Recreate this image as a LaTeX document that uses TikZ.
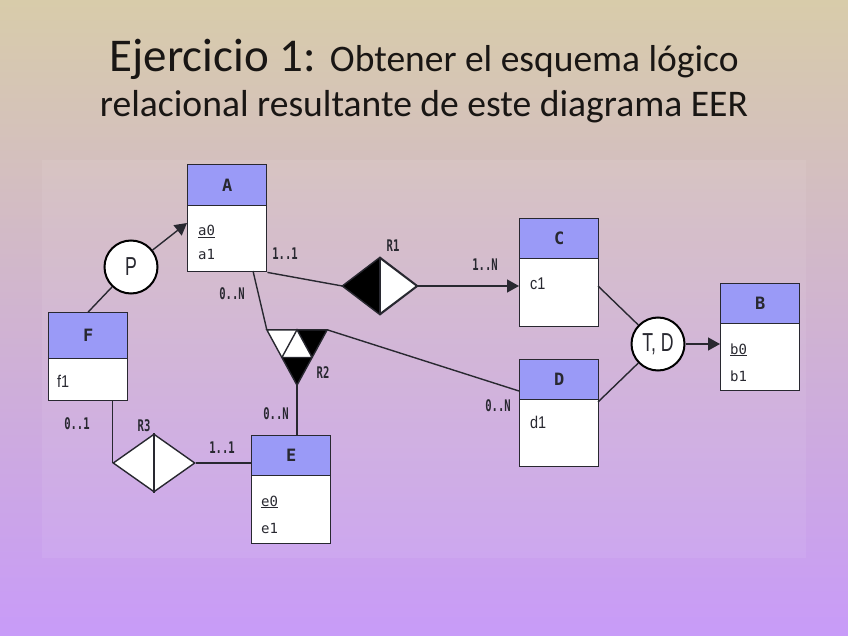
\documentclass[tikz,border=0pt]{standalone}
\usepackage{fontspec}
\setmainfont{Carlito}
\newfontfamily\monof[FakeStretch=0.66]{DejaVu Sans Mono}
\newfontfamily\attrf{DejaVu Sans Mono}
\newfontfamily\narrowf[FakeStretch=0.85]{Liberation Sans}
\newfontfamily\circf[FakeStretch=0.68]{Liberation Sans}
\usetikzlibrary{arrows.meta,shapes.geometric,calc}
\definecolor{hdrblue}{RGB}{154,154,247}
\definecolor{ink}{RGB}{40,40,48}
\definecolor{bgtop}{RGB}{216,204,170}
\definecolor{bgmid}{RGB}{228,210,222}
\definecolor{bgbot}{RGB}{200,155,248}
\definecolor{titleink}{RGB}{25,22,20}
\begin{document}
\begin{tikzpicture}[x=1pt,y=-1pt,
  hdr/.style={draw=ink, line width=1.4pt, fill=hdrblue, minimum width=79pt, inner sep=0pt, anchor=north west, font=\attrf\bfseries\fontsize{17}{17}\selectfont, text=ink},
  bdy/.style={draw=ink, line width=1.4pt, fill=white, minimum width=79pt, inner sep=0pt, anchor=north west},
  attr/.style={anchor=base west, inner sep=0pt, font=\attrf\fontsize{14}{14}\selectfont, text=ink},
  attrs/.style={anchor=base west, inner sep=0pt, font=\narrowf\fontsize{17}{17}\selectfont, text=ink},
  card/.style={inner sep=0pt, font=\monof\bfseries\fontsize{16}{16}\selectfont, text=ink},
  conn/.style={draw=ink, line width=1.4pt},
  arr/.style={conn, -{Triangle[length=12pt,width=13pt]}},
  circ/.style={circle, draw=black, line width=2pt, fill=white, minimum size=53pt, inner sep=0pt, font=\circf\fontsize{26}{26}\selectfont, text=ink},
  rel/.style={diamond, draw=ink, line width=1.4pt, fill=white, inner sep=0pt}
]
\useasboundingbox (0,0) rectangle (848,636);
\shade[top color=bgtop, middle color=bgmid, bottom color=bgbot] (0,0) rectangle (848,636);
\fill[white, opacity=0.07] (42,160) rectangle (806,558);

% title
\node[anchor=base, inner sep=0pt, text=titleink] (title1) at (424,72) {\fontsize{47}{47}\selectfont Ejercicio 1: \fontsize{37.5}{37.5}\selectfont Obtener el esquema lógico};
\node[anchor=base, inner sep=0pt, text=titleink, font=\fontsize{37.6}{37.6}\selectfont] (title2) at (424,117) {relacional resultante de este diagrama EER};

% entities
\node[hdr, minimum height=41pt] (A) at (187,164) {A};
\node[bdy, minimum height=66pt] (Ab) at (187,205) {};
\node[hdr, minimum height=40pt] (C) at (519,218) {C};
\node[bdy, minimum height=68pt] (Cb) at (519,258) {};
\node[hdr, minimum height=40pt] (B) at (720,283) {B};
\node[bdy, minimum height=67pt] (Bb) at (720,323) {};
\node[hdr, minimum height=46pt] (F) at (48,312) {F};
\node[bdy, minimum height=42pt] (Fb) at (48,358) {};
\node[hdr, minimum height=40pt] (D) at (519,359) {D};
\node[bdy, minimum height=67pt] (Db) at (519,399) {};
\node[hdr, minimum height=40pt] (E) at (251,435) {E};
\node[bdy, minimum height=68pt] (Eb) at (251,475) {};

% attributes
\node[attr] (a0) at (198,236) {\underline{a0}};
\node[attr] (a1) at (198,259) {a1};
\node[attrs] (c1) at (530,289) {c1};
\node[attr] (b0) at (730,354) {\underline{b0}};
\node[attr] (b1) at (730,381) {b1};
\node[attrs] (d1) at (530,428) {d1};
\node[attrs] (f1) at (57,387) {f1};
\node[attr] (e0) at (261,506) {\underline{e0}};
\node[attr] (e1) at (261,533) {e1};

% circles
\node[circ] (P) at (131,267) {P};
\node[circ] (TD) at (658,344) {T, D};

% relationships
\node[rel, minimum width=74pt, minimum height=56pt] (R1) at (380,286) {};
\fill[black] (R1.north) -- (R1.west) -- (R1.south) -- cycle;
\draw[conn] (R1.north) -- (R1.south);
\draw[conn] (R1.north) -- (R1.east) -- (R1.south) -- (R1.west) -- cycle;

\node[rel, minimum width=82pt, minimum height=58pt] (R3) at (154,463) {};
\draw[conn] (R3.north) -- (R3.south);

\node[minimum width=60pt, minimum height=55pt, inner sep=0pt] (R2) at (297,357.5) {};
\coordinate (R2l) at ($(R2.north west)!0.5!(R2.south)$);
\coordinate (R2r) at ($(R2.north east)!0.5!(R2.south)$);
\coordinate (R2t) at (R2.north);
\fill[white] (R2.north west) -- (R2t) -- (R2r) -- (R2l) -- cycle;
\fill[black] (R2t) -- (R2.north east) -- (R2r) -- cycle;
\fill[black] (R2l) -- (R2r) -- (R2.south) -- cycle;
\draw[conn] (R2.north west) -- (R2.north east) -- (R2.south) -- cycle;
\draw[conn] (R2t) -- (R2r) -- (R2l) -- cycle;

% connectors
\coordinate (Ain) at (187,223);
\coordinate (Aout) at (253,271);
\coordinate (Din) at (519,391);
\coordinate (Cout) at (598,286);
\coordinate (Dout) at (598,402);
\draw[conn] (F.north) -- (P);
\draw[arr] (P) -- (Ain);
\draw[conn] (Ab.south east) -- (R1.west);
\draw[arr] (R1.east) -- (R1.east -| Cb.west);
\draw[conn] (Aout) -- (R2.north west);
\draw[conn] (R2.north east) -- (Din);
\draw[conn] (R2.south) -- (R2.south |- E.north);
\draw[conn] (R3.west |- Fb.south) -- (R3.west);
\draw[conn] (R3.east) -- (R3.east -| E.west);
\draw[conn] (Cout) -- (TD);
\draw[conn] (Dout) -- (TD);
\draw[arr] (TD) -- (TD -| Bb.west);

% labels
\node[card] (c11a) at (285,254) {1..1};
\node[card] (r1l) at (393,246) {R1};
\node[card] (c0Na) at (232,294) {0..N};
\node[card] (c1N) at (485,265) {1..N};
\node[card] (r2l) at (323,373) {R2};
\node[card] (c0Nd) at (498,406) {0..N};
\node[card] (c0Ne) at (276,414) {0..N};
\node[card] (c01) at (77,424) {0..1};
\node[card] (r3l) at (144,426) {R3};
\node[card] (c11e) at (222,448) {1..1};
\end{tikzpicture}
\end{document}
